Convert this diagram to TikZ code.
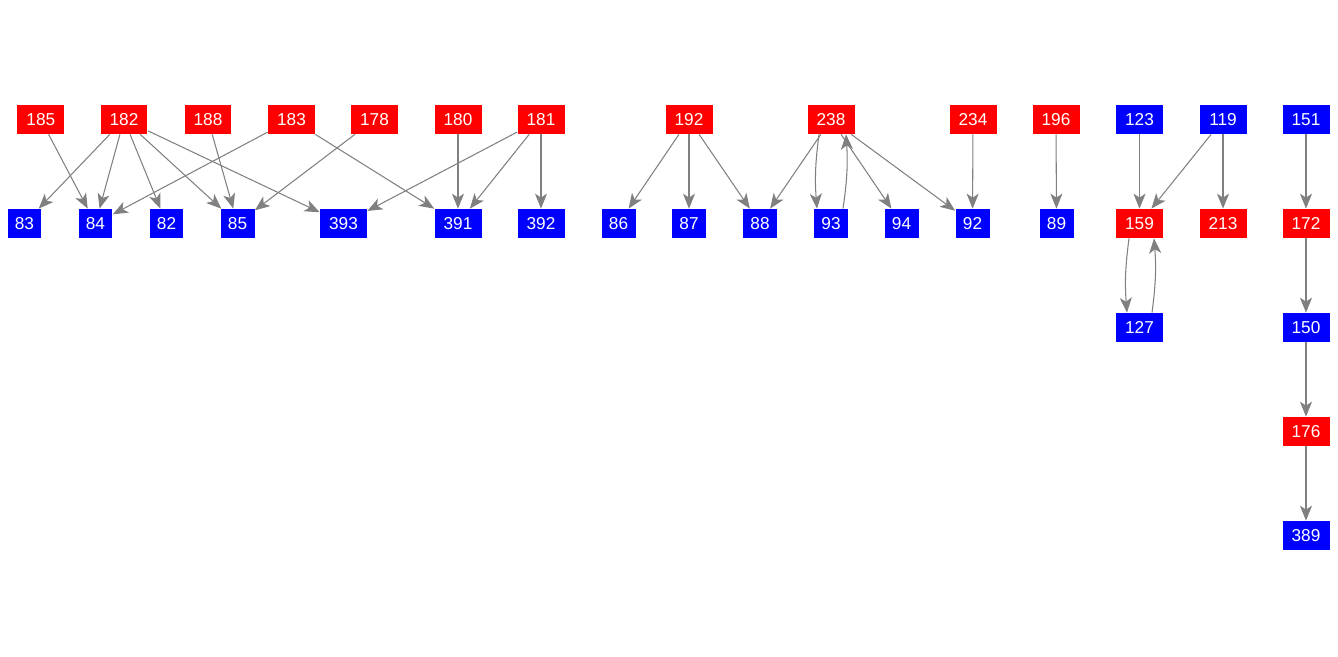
\documentclass[tikz,border=0pt]{standalone}
\usepackage{fontspec}
\setmainfont{Liberation Sans}
\usepackage{xcolor}
\usepackage{tikz}
\usetikzlibrary{arrows.meta}
\definecolor{nodered}{RGB}{255,0,0}
\definecolor{nodeblue}{RGB}{0,0,255}
\definecolor{edgegray}{RGB}{128,128,128}
\tikzset{
  redbox/.style={rectangle, fill=nodered, text=white, inner sep=0pt,
    minimum width=0.94cm, minimum height=0.58cm,
    font=\fontsize{9.8}{10}\selectfont},
  bluebox/.style={rectangle, fill=nodeblue, text=white, inner sep=0pt,
    minimum width=0.94cm, minimum height=0.58cm,
    font=\fontsize{9.8}{10}\selectfont},
  narrow/.style={minimum width=0.68cm},
  arrow/.style={-{Stealth[length=0.3cm, width=0.24cm, inset=0.08cm]},
    line width=0.6pt, color=edgegray}
}

\begin{document}
\begin{tikzpicture}[x=0.02cm, y=-0.02cm]
  \useasboundingbox (0,0) rectangle (1338,656);

  % Top row
  \node[redbox] (n185) at (40.8,119.5) {185};
  \node[redbox] (n182) at (124,119.5) {182};
  \node[redbox] (n188) at (208,119.5) {188};
  \node[redbox] (n183) at (291.5,119.5) {183};
  \node[redbox] (n178) at (374.5,119.5) {178};
  \node[redbox] (n180) at (458,119.5) {180};
  \node[redbox] (n181) at (541,119.5) {181};
  \node[redbox] (n192) at (689,119.5) {192};
  \node[redbox] (n238) at (831,119.5) {238};
  \node[redbox] (n234) at (973,119.5) {234};
  \node[redbox] (n196) at (1056,119.5) {196};
  \node[bluebox] (n123) at (1139.5,119.5) {123};
  \node[bluebox] (n119) at (1223,119.5) {119};
  \node[bluebox] (n151) at (1306,119.5) {151};

  % Second row
  \node[bluebox, narrow] (n83) at (24.5,223.5) {83};
  \node[bluebox, narrow] (n84) at (95.5,223.5) {84};
  \node[bluebox, narrow] (n82) at (166.5,223.5) {82};
  \node[bluebox, narrow] (n85) at (237.5,223.5) {85};
  \node[bluebox] (n393) at (343.5,223.5) {393};
  \node[bluebox] (n391) at (458,223.5) {391};
  \node[bluebox] (n392) at (541,223.5) {392};
  \node[bluebox, narrow] (n86) at (618.5,223.5) {86};
  \node[bluebox, narrow] (n87) at (689,223.5) {87};
  \node[bluebox, narrow] (n88) at (760,223.5) {88};
  \node[bluebox, narrow] (n93) at (831,223.5) {93};
  \node[bluebox, narrow] (n94) at (901.5,223.5) {94};
  \node[bluebox, narrow] (n92) at (972.5,223.5) {92};
  \node[bluebox, narrow] (n89) at (1056.5,223.5) {89};
  \node[redbox] (n159) at (1139.5,223.5) {159};
  \node[redbox] (n213) at (1223,223.5) {213};
  \node[redbox] (n172) at (1306,223.5) {172};

  % Lower rows
  \node[bluebox] (n127) at (1139.5,327.5) {127};
  \node[bluebox] (n150) at (1306,327.5) {150};
  \node[redbox] (n176) at (1306,431.5) {176};
  \node[bluebox] (n389) at (1306,535.5) {389};

  % Connections
  \draw[arrow] (n185) -- (n84);
  \draw[arrow] (n182) -- (n83);
  \draw[arrow] (n182) -- (n84);
  \draw[arrow] (n182) -- (n82);
  \draw[arrow] (n182) -- (n85);
  \draw[arrow] (n182) -- (n393);
  \draw[arrow] (n188) -- (n85);
  \draw[arrow] (n183) -- (n84);
  \draw[arrow] (n183) -- (n391);
  \draw[arrow] (n178) -- (n85);
  \draw[arrow] (n180) -- (n391);
  \draw[arrow] (n181) -- (n393);
  \draw[arrow] (n181) -- (n391);
  \draw[arrow] (n181) -- (n392);

  \draw[arrow] (n192) -- (n86);
  \draw[arrow] (n192) -- (n87);
  \draw[arrow] (n192) -- (n88);
  \draw[arrow] (n238) -- (n88);
  \draw[arrow] ([xshift=-0.24cm]n238.south) to[bend right=6] ([xshift=-0.28cm]n93.north);
  \draw[arrow] ([xshift=0.24cm]n93.north) to[bend right=6] ([xshift=0.3cm]n238.south);
  \draw[arrow] (n238) -- (n94);
  \draw[arrow] (n238) -- (n92);
  \draw[arrow] (n234) -- (n92);
  \draw[arrow] (n196) -- (n89);

  \draw[arrow] (n123) -- (n159);
  \draw[arrow] (n119) -- (n159);
  \draw[arrow] (n119) -- (n213);
  \draw[arrow] ([xshift=-0.21cm]n159.south) to[bend right=6] ([xshift=-0.25cm]n127.north);
  \draw[arrow] ([xshift=0.25cm]n127.north) to[bend right=6] ([xshift=0.29cm]n159.south);

  \draw[arrow] (n151) -- (n172);
  \draw[arrow] (n172) -- (n150);
  \draw[arrow] (n150) -- (n176);
  \draw[arrow] (n176) -- (n389);
\end{tikzpicture}
\end{document}
